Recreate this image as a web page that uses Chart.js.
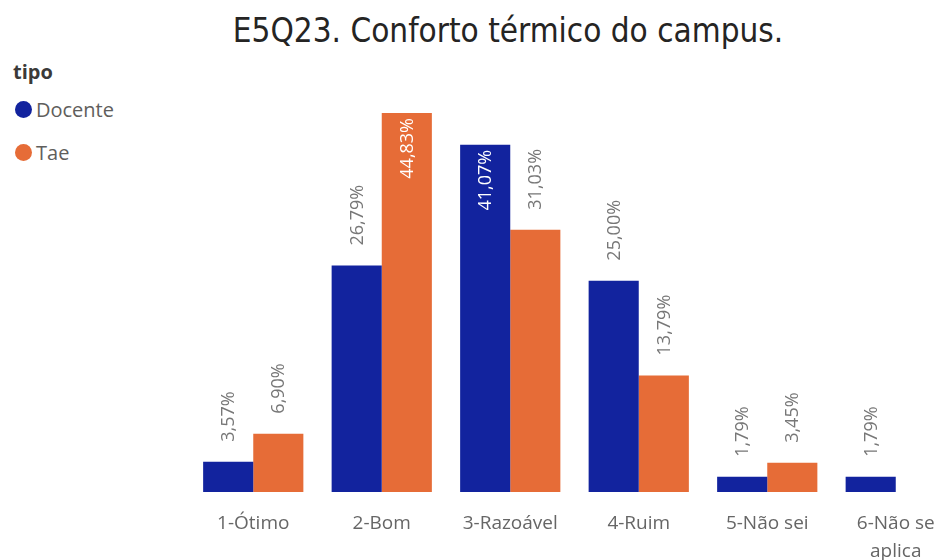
<!DOCTYPE html>
<html>
<head>
<meta charset="utf-8">
<script src="https://cdn.jsdelivr.net/npm/chart.js@4.4.1/dist/chart.umd.min.js"></script>
<style>
  html, body { margin: 0; padding: 0; background: #fff; }
  body { width: 939px; height: 560px; overflow: hidden; position: relative; }
  #title {
    position: absolute; left: 108px; top: 11px; width: 800px; text-align: center;
    font-family: "Liberation Sans Narrow", "DejaVu Sans Condensed", "Roboto", sans-serif;
    font-stretch: condensed; font-size: 33px; color: #252423; white-space: nowrap;
  }
  #legend { position: absolute; left: 0; top: 0; font-family: "Open Sans", sans-serif; }
  #legend .head { position: absolute; left: 13px; top: 58px; font-weight: bold; font-size: 20px; color: #3b3a39; line-height: 28px; }
  #legend .item { position: absolute; left: 15px; display: flex; align-items: center; font-size: 20px; color: #605e5c; height: 28px; white-space: nowrap; }
  #legend .dot { width: 17px; height: 17px; border-radius: 50%; margin-right: 4px; flex: none; }
  #wrap { position: absolute; left: 0; top: 0; width: 980px; height: 560px; }
</style>
</head>
<body>
<div id="title">E5Q23. Conforto térmico do campus.</div>
<div id="legend">
  <div class="head">tipo</div>
  <div class="item" id="lg0" style="top:95px"></div>
  <div class="item" id="lg1" style="top:138px"></div>
</div>
<div id="wrap"><canvas id="c" width="980" height="560"></canvas></div>
<script>
// Response categories and share of answers (%) per group
const categories = ["1-Ótimo", "2-Bom", "3-Razoável", "4-Ruim", "5-Não sei", ["6-Não se", "aplica"]];
const seriesNames = ["Docente", "Tae"];
const docente = [3.57, 26.79, 41.07, 25.00, 1.79, 1.79];
const tae = [6.90, 44.83, 31.03, 13.79, 3.45, null];
const colors = ["#12239E", "#E66C37"];

// Legend entries
seriesNames.forEach((name, i) => {
  const el = document.getElementById("lg" + i);
  const dot = document.createElement("span");
  dot.className = "dot";
  dot.style.background = colors[i];
  el.appendChild(dot);
  el.appendChild(document.createTextNode(name));
});

const fmt = v => v.toFixed(2).replace(".", ",") + "%";

// Vertical value labels: above the bar, or inside near the top when there is no room
const valueLabels = {
  id: "valueLabels",
  afterDatasetsDraw(chart) {
    const ctx = chart.ctx;
    const area = chart.chartArea;
    ctx.save();
    ctx.font = '18px "Open Sans", sans-serif';
    chart.data.datasets.forEach((ds, di) => {
      const meta = chart.getDatasetMeta(di);
      meta.data.forEach((bar, i) => {
        const v = ds.data[i];
        if (v === null || v === undefined) return;
        const text = fmt(v);
        const w = ctx.measureText(text).width;
        const gapOut = 20, gapIn = 5;
        ctx.save();
        if (bar.y - gapOut - w >= area.top) {
          ctx.translate(bar.x, bar.y - gapOut);
          ctx.rotate(-Math.PI / 2);
          ctx.textAlign = "left";
          ctx.fillStyle = "#777777";
        } else {
          ctx.translate(bar.x, bar.y + gapIn);
          ctx.rotate(-Math.PI / 2);
          ctx.textAlign = "right";
          ctx.fillStyle = "#ffffff";
        }
        ctx.textBaseline = "middle";
        ctx.fillText(text, 0, 1);
        ctx.restore();
      });
    });
    ctx.restore();
  }
};

new Chart(document.getElementById("c"), {
  type: "bar",
  data: {
    labels: categories,
    datasets: [
      { label: seriesNames[0], data: docente, backgroundColor: colors[0] },
      { label: seriesNames[1], data: tae, backgroundColor: colors[1] }
    ]
  },
  options: {
    responsive: false,
    animation: false,
    events: [],
    layout: { padding: { left: 189, top: 113, right: 20, bottom: 0 } },
    datasets: { bar: { categoryPercentage: 0.78, barPercentage: 1.0 } },
    plugins: { legend: { display: false }, tooltip: { enabled: false }, title: { display: false } },
    scales: {
      x: {
        grid: { display: false, drawTicks: false },
        border: { display: false },
        ticks: {
          color: "#666666", padding: 18, maxRotation: 0, autoSkip: false,
          font: { family: '"Open Sans", sans-serif', size: 19, lineHeight: 1.45 }
        },
        afterFit(scale) { scale.height = 68; }
      },
      y: { display: false, min: 0, max: 44.83 }
    }
  },
  plugins: [valueLabels]
});
</script>
</body>
</html>
